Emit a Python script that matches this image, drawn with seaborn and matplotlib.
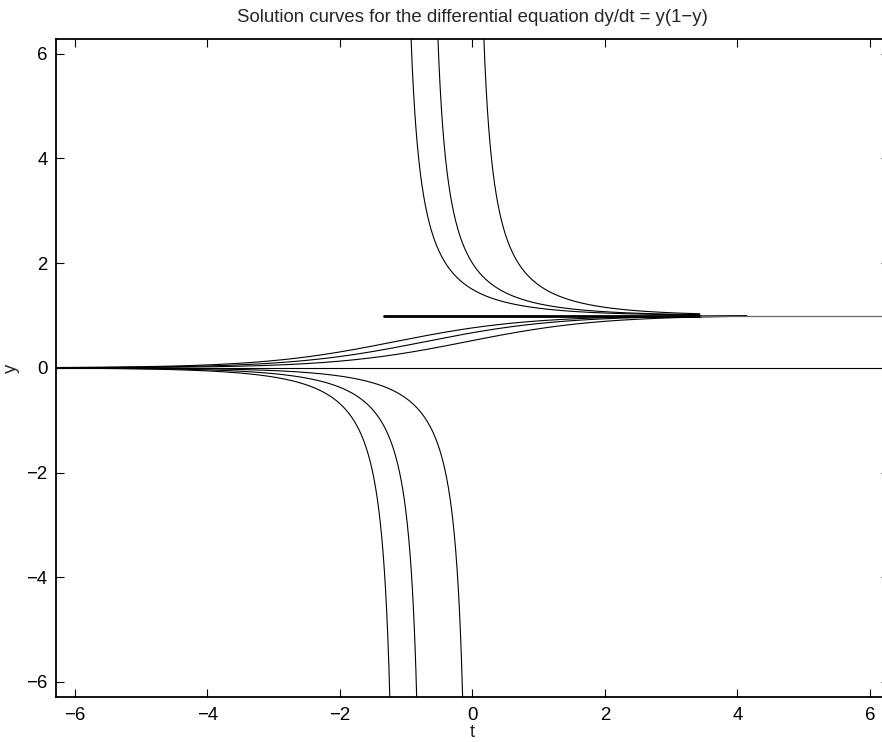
import numpy as np
import pandas as pd
import matplotlib
matplotlib.use("Agg")
import matplotlib.pyplot as plt
import seaborn as sns

sns.set_style("ticks")
plt.rcParams["font.family"] = ["Liberation Sans", "DejaVu Sans"]

# ── DATA ───────────────────────────────────────────────────
# logistic solutions y = 1 / (1 + c*exp(-t))
s_curve_c   = [0.31, 0.49, 0.92]   # 0 < y < 1  (S-shaped)
blowup_c    = [-1/3, -1/2, -1.0]   # y > 1 and y < 0 branches
s_curve_end = 4.14                 # where the S-curves stop
upper_end   = 3.43                 # where the upper branches stop
eq1_thick   = [-1.34, 3.43]        # heavy y = 1 segment
eq1_thin    = [3.43, 2 * np.pi]    # light y = 1 segment
t_min, t_max = -2 * np.pi, 2 * np.pi
n_pts = 600

def logistic(t, c):
    return 1.0 / (1.0 + c * np.exp(-t))

rows = []
for i, c in enumerate(s_curve_c):
    t = np.linspace(t_min, s_curve_end, n_pts)
    rows.append(pd.DataFrame({"t": t, "y": logistic(t, c), "curve": f"s{i}"}))
for i, c in enumerate(blowup_c):
    t_star = np.log(-c)
    t_lo = np.linspace(t_min, t_star - 1e-3, n_pts * 2)
    t_hi = np.linspace(t_star + 1e-3, upper_end, n_pts * 2)
    lo = pd.DataFrame({"t": t_lo, "y": logistic(t_lo, c), "curve": f"lo{i}"})
    hi = pd.DataFrame({"t": t_hi, "y": logistic(t_hi, c), "curve": f"hi{i}"})
    rows += [lo[lo.y > -30], hi[hi.y < 30]]
rows.append(pd.DataFrame({"t": [t_min, t_max], "y": [0, 0], "curve": "eq0"}))
df = pd.concat(rows, ignore_index=True)

# ── PLOT ───────────────────────────────────────────────────
fig = plt.figure(figsize=(8.82, 7.42), dpi=100)
ax = fig.add_axes([56 / 882, 45.3 / 742, 832.8 / 882, 657.7 / 742])

sns.lineplot(data=df, x="t", y="y", units="curve", estimator=None, sort=False,
             color="black", linewidth=0.8, ax=ax, legend=False)
ax.plot(eq1_thick, [1, 1], color="black", linewidth=2.0)
ax.plot(eq1_thin, [1, 1], color="0.4", linewidth=0.9)

ax.set_xlim(t_min, t_max)
ax.set_ylim(-2 * np.pi, 2 * np.pi)
ax.set_xticks(np.arange(-6, 7, 2))
ax.set_yticks(np.arange(-6, 7, 2))
ax.tick_params(direction="in", length=5.8, width=0.8, labelsize=13.4,
               top=True, right=True, colors="black")
ax.tick_params(axis="x", pad=7.2)
ax.tick_params(axis="y", pad=6)
for s in ax.spines.values():
    s.set_linewidth(1.3)
    s.set_color("black")

ax.set_xlabel("t", fontsize=13.2)
ax.set_ylabel("y", fontsize=13.4)
ax.yaxis.set_label_coords(-0.043, 0.5)
ax.set_title("Solution curves for the differential equation dy/dt = y(1\u2212y)",
             fontsize=13.4, pad=12)

# tuck the "t" label just under the tick labels, as in the reference
fig.canvas.draw()
tick_bb = max((lab.get_window_extent() for lab in ax.get_xticklabels()),
              key=lambda b: -b.y0)
ax_bb = ax.get_window_extent()
ax.xaxis.set_label_coords(0.5, (tick_bb.y0 - 0.5 - ax_bb.y0) / ax_bb.height)

fig.savefig("out.png", dpi=100)
